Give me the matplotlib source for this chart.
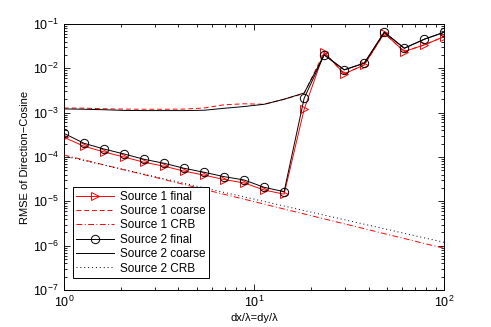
import numpy as np
import matplotlib
matplotlib.use('Agg')
import matplotlib.pyplot as plt

plt.rcParams['font.family'] = ['Liberation Sans', 'DejaVu Sans']
plt.rcParams['mathtext.fontset'] = 'custom'
plt.rcParams['mathtext.rm'] = 'Liberation Sans'

# dx/lambda (20 pontos em escala log)
dx = [1.0, 1.274, 1.624, 2.069, 2.637, 3.360, 4.281, 5.456, 6.952, 8.859,
      11.29, 14.38, 18.33, 23.36, 29.76, 37.93, 48.33, 61.58, 78.48, 100.0]

fonte1_final = [2.78e-4, 1.75e-4, 1.30e-4, 1.00e-4, 7.6e-5, 6.2e-5, 4.8e-5, 3.9e-5, 3.1e-5, 2.6e-5,
                1.8e-5, 1.45e-5, 1.19e-3, 2.29e-2, 7.45e-3, 1.19e-2, 6.16e-2, 2.38e-2, 3.36e-2, 5.18e-2]
fonte1_coarse = [1.27e-3, 1.26e-3, 1.22e-3, 1.20e-3, 1.19e-3, 1.19e-3, 1.20e-3, 1.27e-3, 1.50e-3, 1.58e-3,
                 1.54e-3, 2.0e-3, 2.7e-3, 2.29e-2, 7.45e-3, 1.19e-2, 6.16e-2, 2.38e-2, 3.36e-2, 5.18e-2]
fonte1_crb = [1.11e-4, 8.59e-5, 6.65e-5, 5.16e-5, 4.00e-5, 3.10e-5, 2.40e-5, 1.86e-5, 1.44e-5, 1.12e-5,
              8.65e-6, 6.70e-6, 5.19e-6, 4.02e-6, 3.12e-6, 2.42e-6, 1.87e-6, 1.45e-6, 1.12e-6, 8.71e-7]

fonte2_final = [3.42e-4, 2.04e-4, 1.51e-4, 1.17e-4, 8.87e-5, 7.21e-5, 5.56e-5, 4.52e-5, 3.60e-5, 3.03e-5,
                2.07e-5, 1.65e-5, 2.11e-3, 2.00e-2, 9.2e-3, 1.30e-2, 6.49e-2, 2.82e-2, 4.51e-2, 6.49e-2]
fonte2_coarse = [1.21e-3, 1.19e-3, 1.16e-3, 1.12e-3, 1.11e-3, 1.11e-3, 1.11e-3, 1.13e-3, 1.25e-3, 1.37e-3,
                 1.54e-3, 2.0e-3, 2.77e-3, 2.00e-2, 9.2e-3, 1.30e-2, 6.49e-2, 2.82e-2, 4.51e-2, 6.49e-2]
fonte2_crb = [1.055e-4, 8.32e-5, 6.57e-5, 5.19e-5, 4.10e-5, 3.24e-5, 2.55e-5, 2.02e-5, 1.59e-5, 1.26e-5,
              9.94e-6, 7.84e-6, 6.19e-6, 4.89e-6, 3.86e-6, 3.05e-6, 2.41e-6, 1.90e-6, 1.50e-6, 1.19e-6]

fig = plt.figure(figsize=(4.91, 3.27), dpi=100)
ax = fig.add_axes([0.13, 0.113, 0.775, 0.814])

lw = 0.7
ax.loglog(dx, fonte1_final, color='r', lw=lw, marker='>', ms=6, mfc='none', mew=0.7,
          label='Source 1 final')
ax.loglog(dx, fonte1_coarse, color='r', lw=lw, ls=(0, (5, 3)), label='Source 1 coarse')
ax.loglog(dx, fonte1_crb, color='r', lw=lw, ls=(0, (6, 2.5, 1, 2.5)), label='Source 1 CRB')
ax.loglog(dx, fonte2_final, color='k', lw=lw, marker='o', ms=6, mfc='none', mew=0.7,
          label='Source 2 final')
ax.loglog(dx, fonte2_coarse, color='k', lw=lw, label='Source 2 coarse')
ax.loglog(dx, fonte2_crb, color='k', lw=lw, ls=(0, (1, 3)), label='Source 2 CRB')

ax.set_xlim(1, 100)
ax.set_ylim(1e-7, 1e-1)
ax.set_xlabel('dx/λ=dy/λ', fontsize=8, labelpad=2)
ax.set_ylabel('RMSE of Direction−Cosine', fontsize=8, labelpad=2)

ax.tick_params(which='both', direction='in', top=True, right=True, labelsize=9, width=0.6)
ax.tick_params(which='major', length=4)
ax.tick_params(which='minor', length=2)
ax.set_yticks([1e-7, 1e-6, 1e-5, 1e-4, 1e-3, 1e-2, 1e-1])
for s in ax.spines.values():
    s.set_linewidth(0.7)

leg = ax.legend(loc='lower left', bbox_to_anchor=(0.023, 0.045), fontsize=8.5,
                fancybox=False, edgecolor='k', framealpha=1, handlelength=3.2,
                borderpad=0.3, labelspacing=0.2, handletextpad=0.5, borderaxespad=0)
leg.get_frame().set_linewidth(0.7)

plt.savefig('out.png', dpi=100)
